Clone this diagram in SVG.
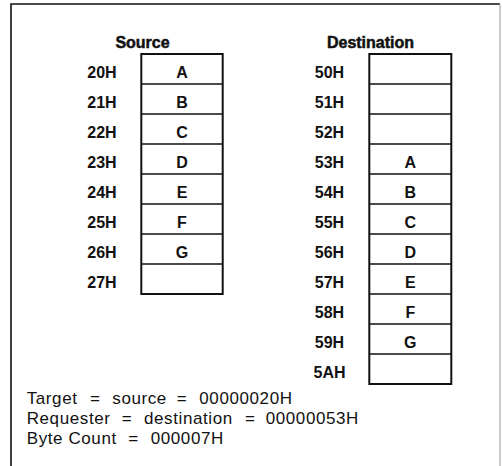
<svg xmlns="http://www.w3.org/2000/svg" width="502" height="466" viewBox="0 0 502 466">
<style>
.frame{fill:none;stroke:#111;stroke-width:1.6}
.frameR{fill:none;stroke:#aaa;stroke-width:1.2}
.box{fill:#fff;stroke:#111;stroke-width:2}
.sep{stroke:#111;stroke-width:1.6}
.head{font-family:"Liberation Sans",Arial,sans-serif;font-weight:bold;font-size:16px;fill:#111;text-anchor:middle;stroke:#111;stroke-width:0.5}
.lbl{font-family:"Liberation Sans",Arial,sans-serif;font-weight:bold;font-size:16px;fill:#111;text-anchor:middle}
.val{font-family:"Liberation Sans",Arial,sans-serif;font-weight:bold;font-size:16px;fill:#111;text-anchor:middle}
.note{font-family:"Liberation Sans",Arial,sans-serif;font-size:17px;fill:#111;letter-spacing:0.6px}
</style>
<rect width="502" height="466" fill="#fff"/>
<g id="frame">
<path class="frame" d="M11,470 V4 H500"/>
<path class="frameR" d="M500,4 V470"/>
</g>
<g id="connectors"/>
<g id="source">
<text class="head" x="142.5" y="47.5">Source</text>
<rect class="box" x="141.3" y="54" width="81.4" height="240"/>
<g class="sep">
<line x1="141.3" y1="84" x2="222.7" y2="84"/>
<line x1="141.3" y1="114" x2="222.7" y2="114"/>
<line x1="141.3" y1="144" x2="222.7" y2="144"/>
<line x1="141.3" y1="174" x2="222.7" y2="174"/>
<line x1="141.3" y1="204" x2="222.7" y2="204"/>
<line x1="141.3" y1="234" x2="222.7" y2="234"/>
<line x1="141.3" y1="264" x2="222.7" y2="264"/>
</g>
<g class="lbl">
<text x="102" y="77.5">20H</text>
<text x="102" y="107.5">21H</text>
<text x="102" y="137.5">22H</text>
<text x="102" y="167.5">23H</text>
<text x="102" y="197.5">24H</text>
<text x="102" y="227.5">25H</text>
<text x="102" y="257.5">26H</text>
<text x="102" y="287.5">27H</text>
</g>
<g class="val">
<text x="182" y="77.5">A</text>
<text x="182" y="107.5">B</text>
<text x="182" y="137.5">C</text>
<text x="182" y="167.5">D</text>
<text x="182" y="197.5">E</text>
<text x="182" y="227.5">F</text>
<text x="182" y="257.5">G</text>
</g>
</g>
<g id="destination">
<text class="head" x="370.5" y="47.5">Destination</text>
<rect class="box" x="369.3" y="54" width="82" height="330"/>
<g class="sep">
<line x1="369.3" y1="84" x2="451.3" y2="84"/>
<line x1="369.3" y1="114" x2="451.3" y2="114"/>
<line x1="369.3" y1="144" x2="451.3" y2="144"/>
<line x1="369.3" y1="174" x2="451.3" y2="174"/>
<line x1="369.3" y1="204" x2="451.3" y2="204"/>
<line x1="369.3" y1="234" x2="451.3" y2="234"/>
<line x1="369.3" y1="264" x2="451.3" y2="264"/>
<line x1="369.3" y1="294" x2="451.3" y2="294"/>
<line x1="369.3" y1="324" x2="451.3" y2="324"/>
<line x1="369.3" y1="354" x2="451.3" y2="354"/>
</g>
<g class="lbl">
<text x="329.5" y="77.5">50H</text>
<text x="329.5" y="107.5">51H</text>
<text x="329.5" y="137.5">52H</text>
<text x="329.5" y="167.5">53H</text>
<text x="329.5" y="197.5">54H</text>
<text x="329.5" y="227.5">55H</text>
<text x="329.5" y="257.5">56H</text>
<text x="329.5" y="287.5">57H</text>
<text x="329.5" y="317.5">58H</text>
<text x="329.5" y="347.5">59H</text>
<text x="329.5" y="377.5">5AH</text>
</g>
<g class="val">
<text x="410.3" y="167.5">A</text>
<text x="410.3" y="197.5">B</text>
<text x="410.3" y="227.5">C</text>
<text x="410.3" y="257.5">D</text>
<text x="410.3" y="287.5">E</text>
<text x="410.3" y="317.5">F</text>
<text x="410.3" y="347.5">G</text>
</g>
</g>
<g id="notes" class="note">
<text y="404"><tspan x="26.7">Target</tspan><tspan x="90">=</tspan><tspan x="112.3">source</tspan><tspan x="176.7">=</tspan><tspan x="199.3">00000020H</tspan></text>
<text y="424"><tspan x="26.7">Requester</tspan><tspan x="121.7">=</tspan><tspan x="144">destination</tspan><tspan x="245">=</tspan><tspan x="265.7">00000053H</tspan></text>
<text y="444"><tspan x="26.7">Byte Count</tspan><tspan x="128.3">=</tspan><tspan x="150.7">000007H</tspan></text>
</g>
</svg>
